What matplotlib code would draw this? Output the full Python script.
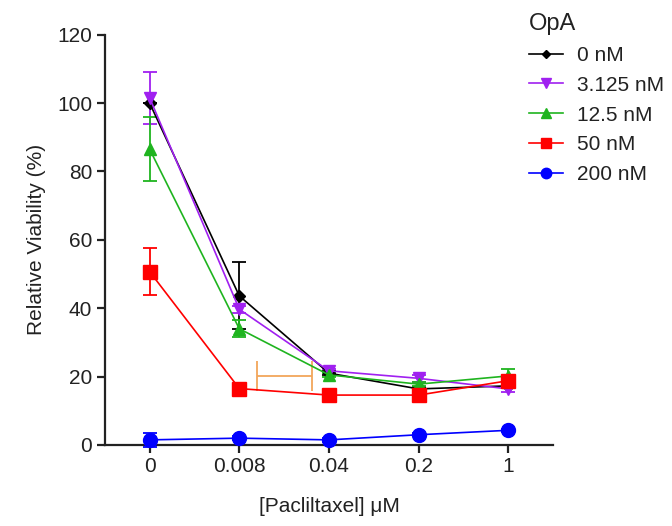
import numpy as np
import matplotlib
matplotlib.use("Agg")
import matplotlib.pyplot as plt

plt.rcParams['font.family'] = ['Liberation Sans', 'DejaVu Sans']

# Paclitaxel doses (categorical x positions)
doses = ["0", "0.008", "0.04", "0.2", "1"]

# OpA series: label, mean viability, SD
labels = ["0 nM", "3.125 nM", "12.5 nM", "50 nM", "200 nM"]
v_0 = [100.0, 43.6, 21.0, 16.4, 17.3]
v_3125 = [101.5, 39.7, 21.7, 19.5, 16.4]
v_125 = [86.5, 34.0, 20.5, 17.8, 20.2]
v_50 = [50.7, 16.5, 14.6, 14.6, 18.8]
v_200 = [1.5, 2.0, 1.5, 3.0, 4.3]

e_0 = [0.0, 9.8, 0.5, 0.5, 0.5]
e_3125 = [7.5, 1.0, 0.5, 1.0, 0.8]
e_125 = [9.3, 2.5, 0.5, 0.5, 2.0]
e_50 = [6.8, 0.5, 0.5, 0.5, 0.5]
e_200 = [2.0, 0.5, 0.5, 0.5, 0.5]

series = [
    (labels[0], v_0, e_0, 'black', 'D', 6),
    (labels[1], v_3125, e_3125, '#a020f0', 'v', 9),
    (labels[2], v_125, e_125, '#1fb41f', '^', 9),
    (labels[3], v_50, e_50, '#ff0000', 's', 10),
    (labels[4], v_200, e_200, '#0000ff', 'o', 10),
]

# stray horizontal bar between 0.008 and 0.04
bar_x, bar_y, bar_halfwidth = 1.505, 20.2, 0.305

fig = plt.figure(figsize=(6.72, 5.26), dpi=100)
ax = fig.add_axes([0.156, 0.154, 0.667, 0.78])

x = np.arange(len(doses))
handles = []
for name, vals, errs, col, mk, ms in series:
    h = ax.errorbar(x, vals, yerr=errs, color=col, marker=mk, markersize=ms,
                    lw=1.2, elinewidth=1.3, capsize=5, capthick=1.3,
                    label=name, clip_on=False, zorder=3)
    # legend shows just the line and marker, no error bar
    handles.append(h.lines[0])

ax.errorbar(bar_x, bar_y, xerr=bar_halfwidth, fmt='none', ecolor='#f2a65a',
            elinewidth=1.3, capsize=11, capthick=1.3, zorder=2)

ax.set_xlim(-0.5, 4.5)
ax.set_ylim(0, 120)
ax.set_xticks(x)
ax.set_xticklabels(doses)
ax.set_yticks(np.arange(0, 121, 20))

for side in ['top', 'right']:
    ax.spines[side].set_visible(False)
for side in ['left', 'bottom']:
    ax.spines[side].set_linewidth(1.6)
    ax.spines[side].set_color('#222222')
ax.tick_params(axis='both', length=6, width=1.6, color='#222222',
               labelsize=15, labelcolor='#222222', pad=3)

ax.set_ylabel("Relative Viability (%)", fontsize=15, color='#222222', labelpad=8)
ax.set_xlabel("[Pacliltaxel] \u03bcM", fontsize=15, color='#222222', labelpad=15)

leg = fig.legend(handles=handles, labels=labels, title="OpA",
                 loc='upper left', bbox_to_anchor=(0.772, 0.995),
                 frameon=False, fontsize=15, title_fontsize=17,
                 handlelength=1.6, handletextpad=0.7, labelspacing=0.52,
                 markerscale=0.75, borderpad=0, alignment='left')
for t in leg.get_texts():
    t.set_color('#222222')
leg.get_title().set_color('#222222')

fig.savefig("out.png", dpi=100)
